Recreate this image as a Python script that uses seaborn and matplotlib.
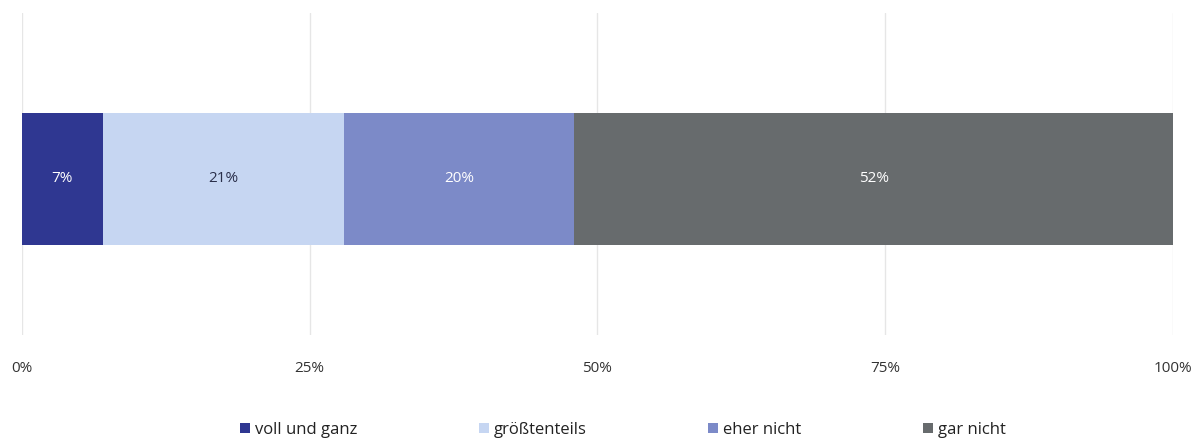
import numpy as np
import pandas as pd
import matplotlib
matplotlib.use("Agg")
import matplotlib.pyplot as plt
from matplotlib.patches import Patch
import seaborn as sns

# Response categories and their shares (percent)
categories = ["voll und ganz", "größtenteils", "eher nicht", "gar nicht"]
shares = [7, 21, 20, 52]
colors = ["#2F3791", "#C6D6F2", "#7C8AC8", "#676B6D"]
label_colors = ["#FFFFFF", "#2A2F4A", "#FFFFFF", "#FFFFFF"]
tick_values = [0, 25, 50, 75, 100]
tick_labels = ["0%", "25%", "50%", "75%", "100%"]

sns.set_theme(style="white")
plt.rcParams["font.family"] = ["Open Sans", "DejaVu Sans"]

fig = plt.figure(figsize=(12, 4.41), dpi=100)
ax = fig.add_axes([0.0183, 0.2404, 0.9592, 0.7301])

cum = np.cumsum(shares)
df = pd.DataFrame({"cat": categories, "share": shares, "cum": cum, "row": ["a"] * 4})

# Stacked bar: draw cumulative totals from largest to smallest so that
# each earlier segment covers the start of the later ones.
for i in range(len(categories) - 1, -1, -1):
    sns.barplot(data=df.iloc[[i]], x="cum", y="row", color=colors[i],
                width=0.41, saturation=1, ax=ax, orient="h", linewidth=0)

for i, (v, c) in enumerate(zip(shares, cum)):
    ax.text(c - v / 2, 0, f"{v}%", ha="center", va="center",
            color=label_colors[i], fontsize=11)

ax.set_xlim(0, 100)
ax.set_ylim(0.4845, -0.5155)
ax.set_xticks(tick_values)
ax.set_xticklabels(tick_labels, fontsize=11, color="#333333")
ax.tick_params(axis="x", length=0, pad=19)
ax.set_yticks([])
ax.set_xlabel("")
ax.set_ylabel("")
ax.grid(axis="x", color="#E6E6E6", linewidth=1)
ax.set_axisbelow(True)
for s in ax.spines.values():
    s.set_visible(False)

handles = [Patch(facecolor=c, edgecolor="none") for c in colors]
fig.legend(handles, categories, loc="center", bbox_to_anchor=(0.519, 0.025),
           ncol=4, frameon=False, fontsize=12, handlelength=0.6,
           handleheight=0.6, handletextpad=0.3, columnspacing=7.3,
           labelcolor="#222222")

fig.savefig("out.png", dpi=100)
